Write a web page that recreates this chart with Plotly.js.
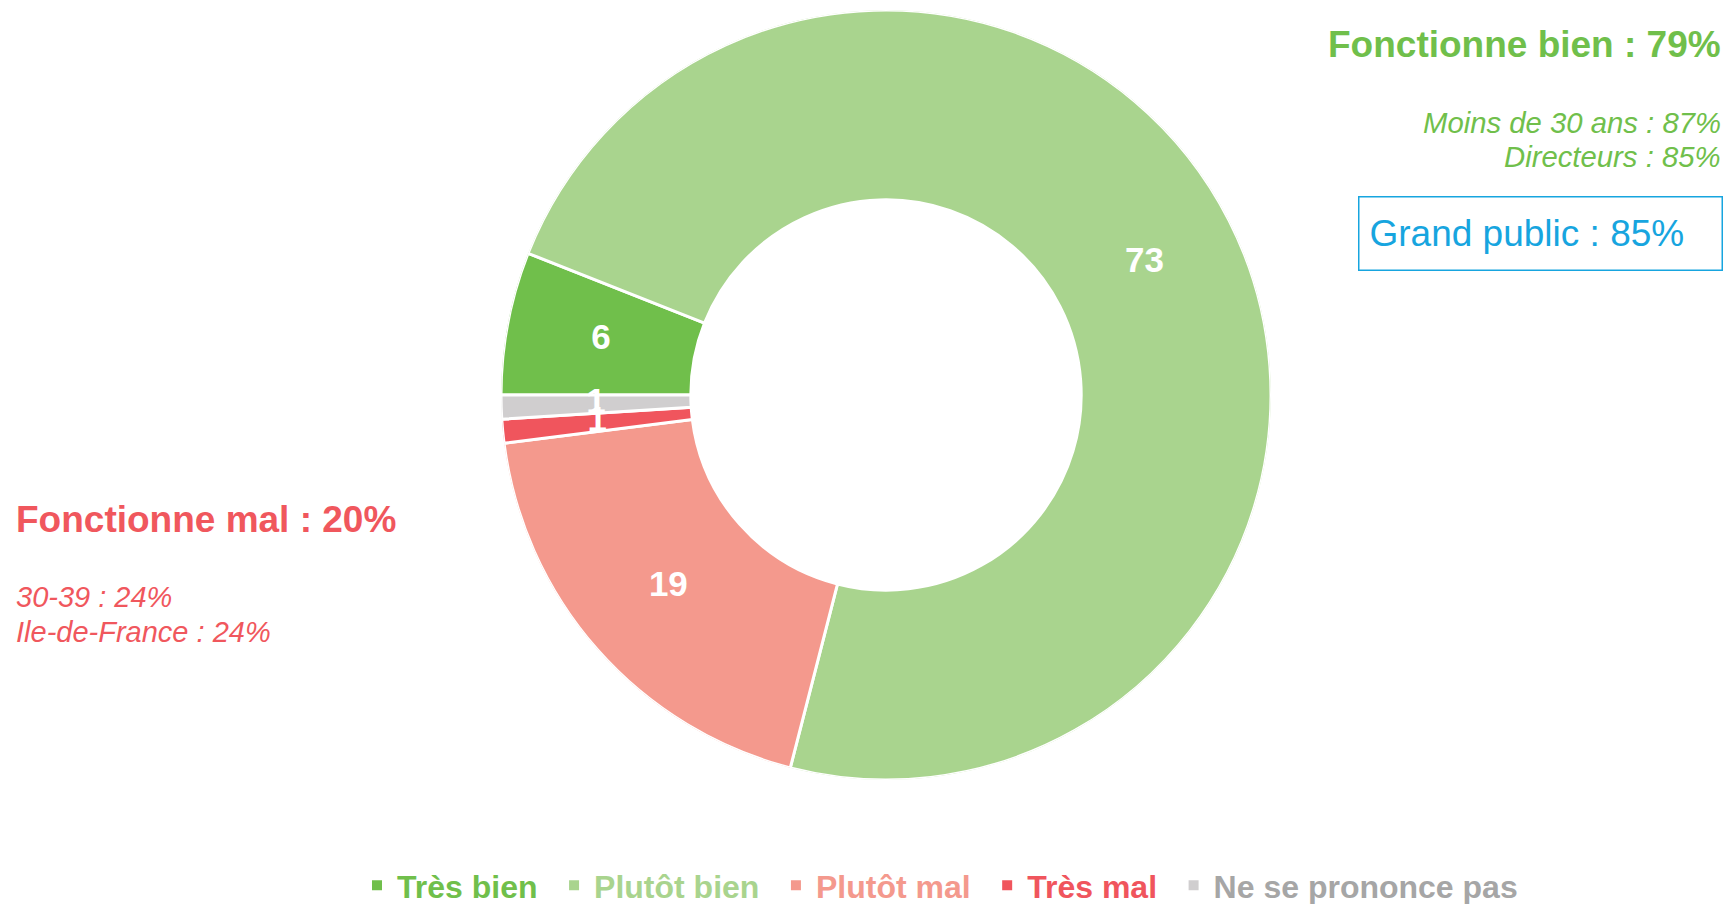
<!DOCTYPE html>
<html>
<head>
<meta charset="utf-8">
<script src="https://cdn.plot.ly/plotly-3.0.1.min.js"></script>
<style>
  html, body { margin: 0; padding: 0; background: #ffffff; }
  #chart { width: 1726px; height: 904px; }
</style>
</head>
<body>
<div id="chart"></div>
<script>
// ---- Data ----
const categories = ['Très bien', 'Plutôt bien', 'Plutôt mal', 'Très mal', 'Ne se prononce pas'];
const values = [6, 73, 19, 1, 1];
const sliceColors = ['#70BF4B', '#A9D48E', '#F4998D', '#F0555D', '#D0CECF'];
const legendTextColors = ['#70BF4B', '#A9D48E', '#F4998D', '#F0555D', '#A6A6A6'];

const goodTitle = 'Fonctionne bien : 79%';
const goodDetails = ['Moins de 30 ans : 87%', 'Directeurs : 85%'];
const publicNote = 'Grand public : 85%';
const badTitle = 'Fonctionne mal : 20%';
const badDetails = ['30-39 : 24%', 'Ile-de-France : 24%'];

// ---- Styling ----
const FONT = 'Liberation Sans, Arial, Helvetica, sans-serif';
const GREEN = '#70BF4B';
const RED = '#F0575D';
const BLUE = '#17A5DF';
const HOLE = 0.507;

const W = 1726, H = 904;
const px = x => x / W;
const py = y => 1 - y / H;

// donut built on a polar subplot: each category is one annular bar
const total = values.reduce((a, b) => a + b, 0);
const starts = values.map((v, i) => values.slice(0, i).reduce((a, b) => a + b, 0));
const midTheta = values.map((v, i) => (starts[i] + v / 2) * 360 / total);
const widthTheta = values.map(v => v * 360 / total);

const ringTraces = categories.map((c, i) => ({
  type: 'barpolar',
  name: '<span style="color:' + legendTextColors[i] + '">' + c + '</span>\u00a0\u200a',
  r: [1 - HOLE],
  base: [HOLE],
  theta: [midTheta[i]],
  width: [widthTheta[i]],
  marker: { color: sliceColors[i], line: { color: '#ffffff', width: 3 } },
  hoverinfo: 'skip',
  showlegend: true
}));

const labelTrace = {
  type: 'scatterpolar',
  mode: 'text',
  r: values.map(() => (1 + HOLE) / 2),
  theta: midTheta,
  text: values.map(String),
  textposition: 'middle center',
  textfont: { family: FONT, size: 35, color: '#ffffff', weight: 'bold' },
  cliponaxis: false,
  hoverinfo: 'skip',
  showlegend: false
};

const annotations = [
  { text: goodTitle, x: px(1723), y: py(45), xanchor: 'right', yanchor: 'middle',
    font: { family: FONT, size: 37, color: GREEN, weight: 'bold' } },
  { text: goodDetails[0], x: px(1723), y: py(122), xanchor: 'right', yanchor: 'middle',
    font: { family: FONT, size: 29.3, color: GREEN, style: 'italic' } },
  { text: goodDetails[1], x: px(1723), y: py(157), xanchor: 'right', yanchor: 'middle',
    font: { family: FONT, size: 29.3, color: GREEN, style: 'italic' } },
  { text: publicNote, x: px(1358), y: py(233), xanchor: 'left', yanchor: 'middle',
    width: 342, height: 52, align: 'left', valign: 'middle',
    bordercolor: BLUE, borderwidth: 1.5, borderpad: 10,
    font: { family: FONT, size: 37, color: BLUE } },
  { text: badTitle, x: px(14), y: py(519), xanchor: 'left', yanchor: 'middle',
    font: { family: FONT, size: 37, color: RED, weight: 'bold' } },
  { text: badDetails[0], x: px(14), y: py(597), xanchor: 'left', yanchor: 'middle',
    font: { family: FONT, size: 29, color: RED, style: 'italic' } },
  { text: badDetails[1], x: px(14), y: py(632), xanchor: 'left', yanchor: 'middle',
    font: { family: FONT, size: 29, color: RED, style: 'italic' } }
].map(a => Object.assign({ xref: 'paper', yref: 'paper', showarrow: false }, a));

const layout = {
  width: W, height: H,
  margin: { l: 0, r: 0, t: 0, b: 0, autoexpand: false },
  paper_bgcolor: '#ffffff',
  plot_bgcolor: '#ffffff',
  showlegend: true,
  polar: {
    domain: { x: [px(886 - 385), px(886 + 385)], y: [py(395 + 385), py(395 - 385)] },
    bgcolor: 'rgba(0,0,0,0)',
    hole: 0,
    radialaxis: { visible: false, range: [0, 1], showgrid: false, showline: false, showticklabels: false },
    angularaxis: { visible: false, rotation: 180, direction: 'clockwise', showgrid: false, showline: false, showticklabels: false, ticks: '' },
    bargap: 0
  },
  legend: {
    orientation: 'h',
    x: px(357), xanchor: 'left',
    y: -0.01, yanchor: 'bottom',
    traceorder: 'normal',
    itemsizing: 'constant',
    font: { family: FONT, size: 32, weight: 'bold' },
    bgcolor: 'rgba(0,0,0,0)'
  },
  annotations: annotations
};

Plotly.newPlot('chart', ringTraces.concat([labelTrace]), layout, { displayModeBar: false, staticPlot: true });
</script>
</body>
</html>
